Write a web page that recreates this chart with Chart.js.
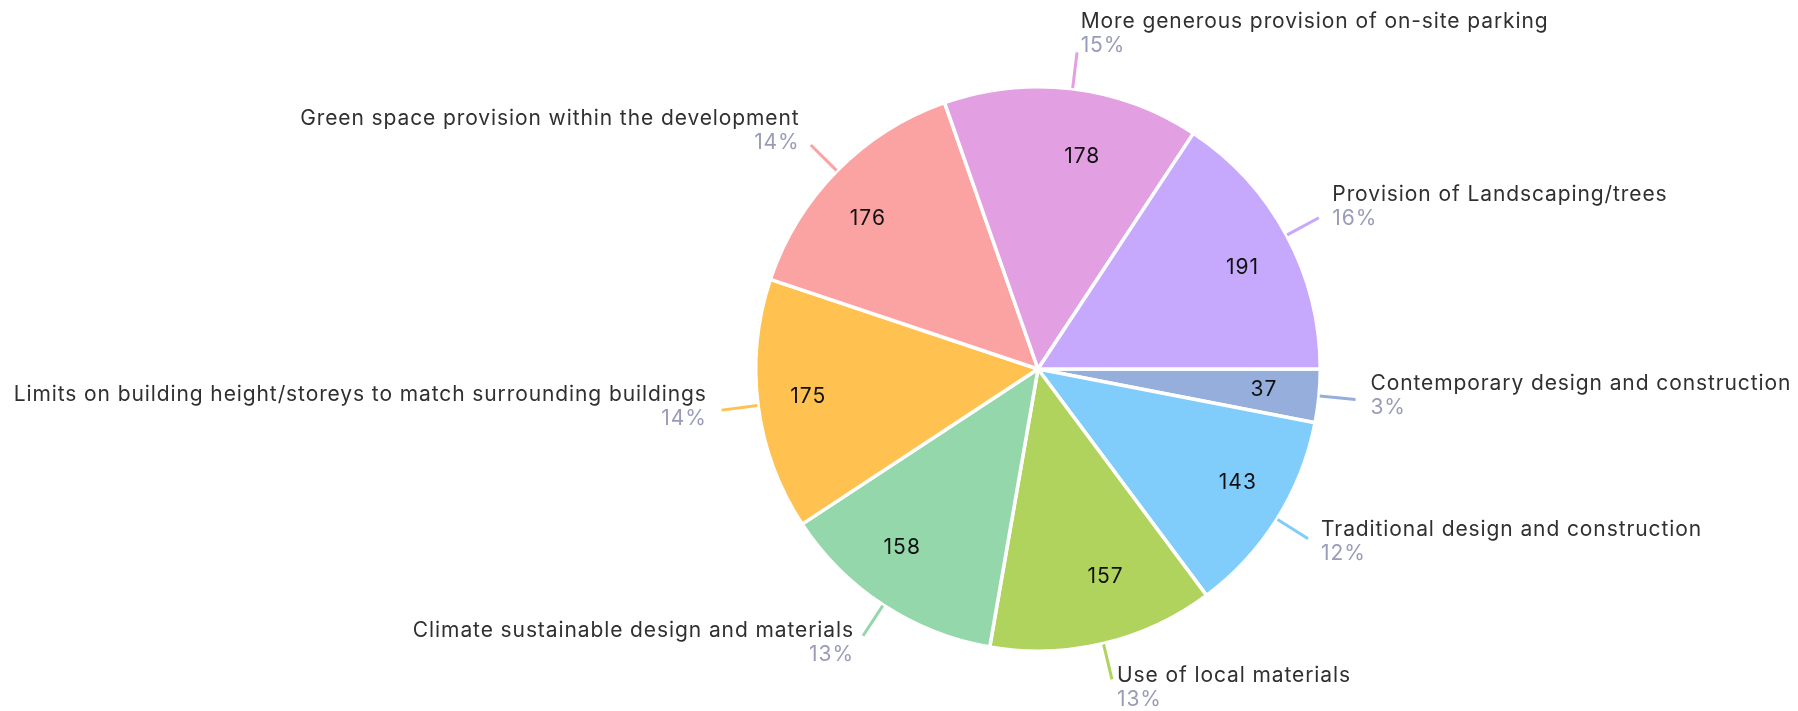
<!DOCTYPE html>
<html>
<head>
<meta charset="utf-8">
<script src="https://cdn.jsdelivr.net/npm/chart.js@4.4.1/dist/chart.umd.min.js"></script>
<style>
  html, body { margin: 0; padding: 0; background: #ffffff; }
  #wrap { width: 1798px; height: 711px; }
</style>
</head>
<body>
<div id="wrap"><canvas id="c" width="1798" height="711"></canvas></div>
<script>
const categories = [
  "Contemporary design and construction",
  "Traditional design and construction",
  "Use of local materials",
  "Climate sustainable design and materials",
  "Limits on building height/storeys to match surrounding buildings",
  "Green space provision within the development",
  "More generous provision of on-site parking",
  "Provision of Landscaping/trees"
];
const counts = [37, 143, 157, 158, 175, 176, 178, 191];
const sliceColors = ["#96aedc", "#80ccfa", "#b0d35d", "#93d7aa", "#ffc150", "#fba3a3", "#e2a0e3", "#c6a8fc"];

const FONT = "Inter, 'Noto Sans', sans-serif";

const labelPlugin = {
  id: 'outerLabels',
  afterDatasetsDraw(chart) {
    const ctx = chart.ctx;
    const meta = chart.getDatasetMeta(0);
    const data = chart.data.datasets[0].data;
    const total = data.reduce((a, b) => a + b, 0);
    ctx.save();
    meta.data.forEach((arc, i) => {
      const p = arc.getProps(['x', 'y', 'startAngle', 'endAngle', 'outerRadius'], true);
      const mid = (p.startAngle + p.endAngle) / 2;
      const c = Math.cos(mid), s = Math.sin(mid);
      const R = 281;
      const right = c >= 0;
      // value label inside
      ctx.fillStyle = '#111111';
      ctx.font = "21px " + FONT;
      ctx.letterSpacing = '1px';
      ctx.textAlign = right ? 'left' : 'right';
      ctx.textBaseline = 'middle';
      ctx.fillText(String(data[i]), p.x + c * R * 0.76, p.y + s * R * 0.76);
      // leader line
      const r0 = R + 2, r1 = R + 38;
      const ex = p.x + c * r1, ey = p.y + s * r1;
      ctx.strokeStyle = sliceColors[i];
      ctx.lineWidth = 3;
      ctx.lineCap = 'butt';
      ctx.beginPath();
      ctx.moveTo(p.x + c * r0, p.y + s * r0);
      ctx.lineTo(ex, ey);
      ctx.stroke();
      // text block
      const tx = ex + (right ? 1 : -1) * (2 + 13 * Math.abs(c));
      const blockC = ey - 6 + 14 * s;
      ctx.textAlign = right ? 'left' : 'right';
      ctx.textBaseline = 'alphabetic';
      ctx.font = "21px " + FONT;
      ctx.letterSpacing = '0.9px';
      ctx.fillStyle = '#303030';
      ctx.fillText(chart.data.labels[i], tx, blockC - 12 + 7.5);
      ctx.fillStyle = '#9a9bb9';
      ctx.fillText(Math.round(data[i] / total * 100) + '%', tx, blockC + 12 + 7.5);
    });
    ctx.restore();
  }
};

new Chart(document.getElementById('c'), {
  type: 'pie',
  data: {
    labels: categories,
    datasets: [{
      data: counts,
      backgroundColor: sliceColors,
      borderColor: '#ffffff',
      borderWidth: 3.5,
      hoverOffset: 0
    }]
  },
  options: {
    responsive: false,
    animation: false,
    rotation: 90,
    layout: { padding: { top: 85, bottom: 58, left: 600, right: 322 } },
    plugins: {
      legend: { display: false },
      tooltip: { enabled: false }
    }
  },
  plugins: [labelPlugin]
});
</script>
</body>
</html>
